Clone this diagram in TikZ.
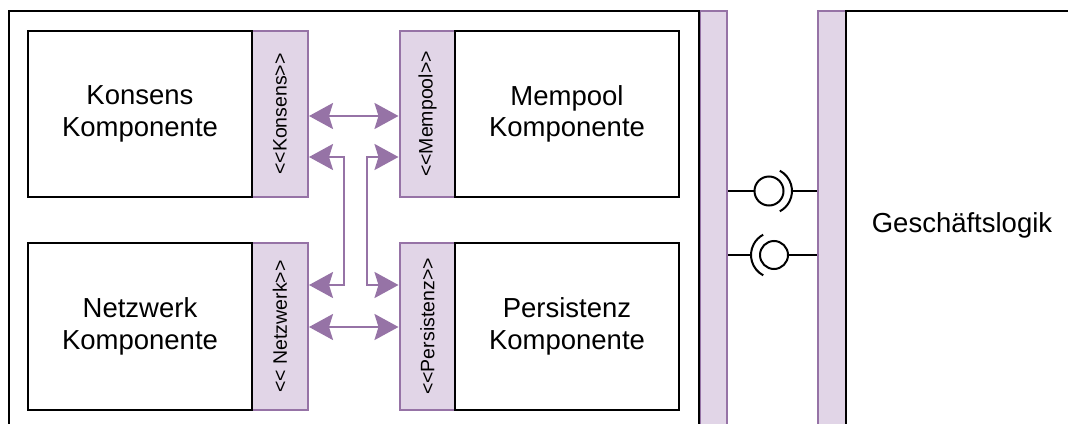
\documentclass[tikz,border=0pt]{standalone}
\usepackage{fontspec}
\setmainfont{Liberation Sans}
% separate family without TeX ligatures, so that << stays as typed
\newfontfamily\portfont{Liberation Sans}
\usetikzlibrary{arrows.meta}
\definecolor{portfill}{HTML}{E1D5E7}
\definecolor{portline}{HTML}{9673A6}

\begin{document}
\begin{tikzpicture}[x=1pt,y=-1pt,
  comp/.style={draw=black, line width=2pt, fill=white, rectangle, inner sep=0pt,
    minimum width=224pt, minimum height=166pt, align=center,
    font=\fontsize{27.5}{31.5}\selectfont},
  port/.style={draw=portline, fill=portfill, line width=2pt, rectangle, inner sep=0pt,
    minimum width=56pt, minimum height=166pt, font=\portfont\fontsize{19.5}{22}\selectfont},
  frame/.style={draw=black, line width=2pt, rectangle, inner sep=0pt,
    minimum height=428pt, font=\fontsize{27.5}{31.5}\selectfont},
  bar/.style={draw=portline, fill=portfill, line width=2pt, rectangle, inner sep=0pt,
    minimum height=428pt},
  link/.style={draw=portline, line width=2.5pt,
    {Stealth[length=24pt,width=26pt,inset=4pt]}-{Stealth[length=24pt,width=26pt,inset=4pt]}},
  wire/.style={draw=black, line width=2pt},
  ball/.style={circle, draw=black, line width=2pt, inner sep=0pt, minimum size=29pt},
]
\useasboundingbox (0,0) rectangle (1068,423);
\clip (0,0) rectangle (1068,423);

% interface bars between the node and the business logic
\node[bar, minimum width=27pt] (lbar) at (713.5,225) {};
\node[bar, minimum width=28pt] (rbar) at (832,225) {};

% containers
\node[frame, minimum width=690pt] (node) at (354,225) {};
\node[frame, minimum width=232pt] (logic) at (962,225) {Geschäftslogik};

% component ports
\node[port] (kport) at (280,114) {\rotatebox{90}{<<Konsens>>}};
\node[port] (mport) at (427.5,114) {\rotatebox{90}{<<Mempool>>}};
\node[port, minimum height=167pt] (nport) at (280,326.5) {\rotatebox{90}{<< Netzwerk>>}};
\node[port, minimum height=167pt] (pport) at (427.5,326.5) {\rotatebox{90}{<<Persistenz>>}};

% components
\node[comp] (konsens) at (140,114) {Konsens\\Komponente};
\node[comp] (mempool) at (567,114) {Mempool\\Komponente};
\node[comp, minimum height=167pt] (netzwerk) at (140,326.5) {Netzwerk\\Komponente};
\node[comp, minimum height=167pt] (persistenz) at (567,326.5) {Persistenz\\Komponente};

% connectors between the ports
\coordinate (r1) at (0,116);
\coordinate (r2) at (0,157);
\coordinate (r3) at (0,285);
\coordinate (r4) at (0,327);
\coordinate (c1) at (344,220);
\coordinate (c2) at (367,220);
\draw[link] (kport.east |- r1) -- (mport.west |- r1);
\draw[link] (kport.east |- r2) -| (c1) |- (nport.east |- r3);
\draw[link] (mport.west |- r2) -| (c2) |- (pport.west |- r3);
\draw[link] (nport.east |- r4) -- (pport.west |- r4);

% provided / required interfaces
\node[ball] (i1) at (769,191) {};
\node[ball, minimum size=28pt] (i2) at (774,255) {};
\draw[wire] (lbar.east |- i1) -- (i1.west);
\draw[wire] (i1.center) ++(-62:23) arc[start angle=-62, end angle=62, radius=23];
\draw[wire] ([xshift=23pt]i1.center) -- (rbar.west |- i1);
\draw[wire] (lbar.east |- i2) -- ([xshift=-23pt]i2.center);
\draw[wire] (i2.center) ++(118:23) arc[start angle=118, end angle=242, radius=23];
\draw[wire] (i2.east) -- (rbar.west |- i2);
\end{tikzpicture}
\end{document}
